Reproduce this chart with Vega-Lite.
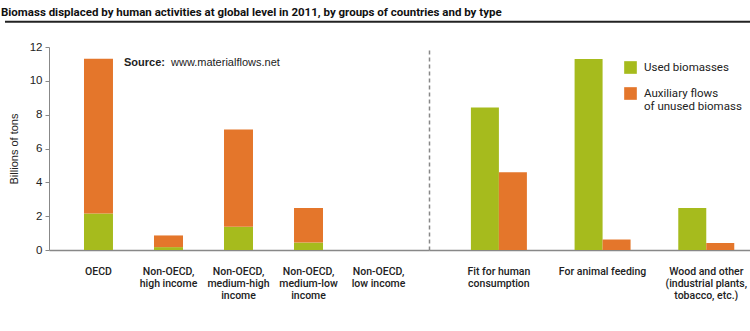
{
  "$schema": "https://vega.github.io/schema/vega-lite/v6.json",
  "padding": {"left": 0, "top": 6, "right": 0, "bottom": 0},
  "background": "white",
  "bounds": "flush",
  "config": {
    "view": {"stroke": null},
    "font": "Liberation Sans",
    "axis": {"labelColor": "#222", "titleColor": "#222"}
  },
  "title": {
    "text": "Biomass displaced by human activities at global level in 2011, by groups of countries and by type",
    "anchor": "start",
    "font": "Roboto",
    "fontSize": 11.5,
    "fontWeight": "bold",
    "color": "#111",
    "offset": -0.5
  },
  "spacing": 0,
  "resolve": {"scale": {"color": "shared", "x": "independent", "y": "independent"}},
  "hconcat": [
    {
      "width": 380,
      "height": 203,
      "resolve": {"scale": {"x": "independent"}},
      "layer": [
        {
          "layer": [
            {
              "data": {
                "values": [
                  {"group": "OECD", "type": "Used biomasses", "value": 2.16},
                  {"group": "OECD", "type": "Auxiliary flows of unused biomass", "value": 9.15},
                  {"group": "Non-OECD, high income", "type": "Used biomasses", "value": 0.17},
                  {"group": "Non-OECD, high income", "type": "Auxiliary flows of unused biomass", "value": 0.69},
                  {"group": "Non-OECD, medium-high income", "type": "Used biomasses", "value": 1.37},
                  {"group": "Non-OECD, medium-high income", "type": "Auxiliary flows of unused biomass", "value": 5.75},
                  {"group": "Non-OECD, medium-low income", "type": "Used biomasses", "value": 0.44},
                  {"group": "Non-OECD, medium-low income", "type": "Auxiliary flows of unused biomass", "value": 2.05},
                  {"group": "Non-OECD, low income", "type": "Used biomasses", "value": 0},
                  {"group": "Non-OECD, low income", "type": "Auxiliary flows of unused biomass", "value": 0}
                ]
              },
              "mark": {"type": "bar"},
              "encoding": {
                "x": {
                  "field": "group",
                  "type": "nominal",
                  "sort": null,
                  "scale": {
                    "domain": ["OECD", "Non-OECD, high income", "Non-OECD, medium-high income", "Non-OECD, medium-low income", "Non-OECD, low income"],
                    "paddingInner": 0.586,
                    "paddingOuter": 0.507,
                    "align": 0.493
                  },
                  "axis": {
                    "title": null,
                    "labelAngle": 0,
                    "ticks": false,
                    "domainColor": "#888",
                    "domainWidth": 1.5,
                    "labelPadding": 16,
                    "labelFont": "Roboto",
                    "labelFontWeight": 500,
                    "labelFontSize": 10.5,
                    "labelLineHeight": 12,
                    "labelLimit": 200,
                    "labelExpr": "datum.value == 'Non-OECD, high income' ? ['Non-OECD,', 'high income'] : datum.value == 'Non-OECD, medium-high income' ? ['Non-OECD,', 'medium-high', 'income'] : datum.value == 'Non-OECD, medium-low income' ? ['Non-OECD,', 'medium-low', 'income'] : datum.value == 'Non-OECD, low income' ? ['Non-OECD,', 'low income'] : datum.label"
                  }
                },
                "y": {
                  "field": "value",
                  "type": "quantitative",
                  "stack": "zero",
                  "scale": {"domain": [0, 12], "nice": false},
                  "axis": {
                    "title": "Billions of tons",
                    "titleFontWeight": "normal",
                    "titleFontSize": 11,
                    "titlePadding": 10,
                    "values": [0, 2, 4, 6, 8, 10, 12],
                    "tickCount": 7,
                    "labelOverlap": false,
                    "grid": false,
                    "domainColor": "#888",
                    "tickColor": "#888",
                    "tickSize": 4,
                    "labelFontSize": 11.5,
                    "labelPadding": 3
                  }
                },
                "color": {
                  "field": "type",
                  "type": "nominal",
                  "scale": {"domain": ["Used biomasses", "Auxiliary flows of unused biomass"], "range": ["#a6bb1d", "#e4762b"]},
                  "legend": {
                    "orient": "none",
                    "legendX": 575,
                    "legendY": 14,
                    "title": null,
                    "symbolType": "square",
                    "symbolSize": 160,
                    "symbolStrokeWidth": 0,
                    "labelFont": "Roboto",
                    "labelFontSize": 11.5,
                    "labelColor": "#222",
                    "rowPadding": 13,
                    "labelOffset": 7,
                    "labelLimit": 200,
                    "labelExpr": "datum.value == 'Auxiliary flows of unused biomass' ? ['Auxiliary flows', 'of unused biomass'] : datum.label"
                  }
                },
                "order": {"field": "type", "sort": "descending"}
              }
            },
            {
              "data": {"values": [{"t": "Source:"}]},
              "mark": {"type": "text", "align": "left", "baseline": "middle", "fontWeight": "bold", "fontSize": 11, "color": "#222", "dx": -44.5, "dy": -1},
              "encoding": {
                "x": {"datum": "Non-OECD, high income", "type": "nominal"},
                "y": {
                  "datum": 11,
                  "type": "quantitative",
                  "axis": {
                    "title": "Billions of tons",
                    "titleFontWeight": "normal",
                    "titleFontSize": 11,
                    "titlePadding": 10,
                    "values": [0, 2, 4, 6, 8, 10, 12],
                    "tickCount": 7,
                    "labelOverlap": false,
                    "grid": false,
                    "domainColor": "#888",
                    "tickColor": "#888",
                    "tickSize": 4,
                    "labelFontSize": 11.5,
                    "labelPadding": 3
                  }
                },
                "text": {"field": "t"}
              }
            },
            {
              "data": {"values": [{"t": "www.materialflows.net"}]},
              "mark": {"type": "text", "align": "left", "baseline": "middle", "fontSize": 11, "color": "#222", "dx": 2.5, "dy": -1},
              "encoding": {
                "x": {"datum": "Non-OECD, high income", "type": "nominal"},
                "y": {
                  "datum": 11,
                  "type": "quantitative",
                  "axis": {
                    "title": "Billions of tons",
                    "titleFontWeight": "normal",
                    "titleFontSize": 11,
                    "titlePadding": 10,
                    "values": [0, 2, 4, 6, 8, 10, 12],
                    "tickCount": 7,
                    "labelOverlap": false,
                    "grid": false,
                    "domainColor": "#888",
                    "tickColor": "#888",
                    "tickSize": 4,
                    "labelFontSize": 11.5,
                    "labelPadding": 3
                  }
                },
                "text": {"field": "t"}
              }
            }
          ]
        },
        {
          "data": {"values": [{"p": 0}, {"p": 1}]},
          "mark": {"type": "line", "color": "#222", "strokeWidth": 2},
          "encoding": {
            "x": {"field": "p", "type": "quantitative", "axis": null, "scale": {"domain": [0.1038, 1], "nice": false, "zero": false}},
            "y": {
              "datum": 13.5,
              "type": "quantitative",
              "axis": {
                "title": "Billions of tons",
                "titleFontWeight": "normal",
                "titleFontSize": 11,
                "titlePadding": 10,
                "values": [0, 2, 4, 6, 8, 10, 12],
                "tickCount": 7,
                "labelOverlap": false,
                "grid": false,
                "domainColor": "#888",
                "tickColor": "#888",
                "tickSize": 4,
                "labelFontSize": 11.5,
                "labelPadding": 3
              }
            }
          }
        }
      ]
    },
    {
      "width": 321,
      "height": 203,
      "layer": [
        {
          "data": {
            "values": [
              {"cat": "Fit for human consumption", "type": "Used biomasses", "value": 8.43},
              {"cat": "Fit for human consumption", "type": "Auxiliary flows of unused biomass", "value": 4.6},
              {"cat": "For animal feeding", "type": "Used biomasses", "value": 11.29},
              {"cat": "For animal feeding", "type": "Auxiliary flows of unused biomass", "value": 0.62},
              {"cat": "Wood and other (industrial plants, tobacco, etc.)", "type": "Used biomasses", "value": 2.49},
              {"cat": "Wood and other (industrial plants, tobacco, etc.)", "type": "Auxiliary flows of unused biomass", "value": 0.42}
            ]
          },
          "mark": {"type": "bar"},
          "encoding": {
            "x": {
              "field": "cat",
              "type": "nominal",
              "sort": null,
              "scale": {
                "domain": ["Fit for human consumption", "For animal feeding", "Wood and other (industrial plants, tobacco, etc.)"],
                "paddingInner": 0.46,
                "paddingOuter": 0.278,
                "align": 0.727
              },
              "axis": {
                "title": null,
                "labelAngle": 0,
                "ticks": false,
                "domainColor": "#888",
                "domainWidth": 1.5,
                "labelPadding": 16,
                "labelFont": "Roboto",
                "labelFontWeight": 500,
                "labelFontSize": 10.5,
                "labelLineHeight": 12,
                "labelLimit": 200,
                "labelExpr": "datum.value == 'Fit for human consumption' ? ['Fit for human', 'consumption'] : datum.value == 'Wood and other (industrial plants, tobacco, etc.)' ? ['Wood and other', '(industrial plants,', 'tobacco, etc.)'] : datum.label"
              }
            },
            "xOffset": {
              "field": "type",
              "type": "nominal",
              "scale": {"domain": ["Used biomasses", "Auxiliary flows of unused biomass"], "paddingInner": 0, "paddingOuter": 0}
            },
            "y": {
              "field": "value",
              "type": "quantitative",
              "scale": {"domain": [0, 12], "nice": false},
              "axis": {
                "title": null,
                "labels": false,
                "ticks": false,
                "tickSize": 0,
                "minExtent": 0,
                "maxExtent": 0,
                "grid": false,
                "domainColor": "#888",
                "domainWidth": 1.5,
                "domainDash": [4, 3]
              }
            },
            "color": {
              "field": "type",
              "type": "nominal",
              "scale": {"domain": ["Used biomasses", "Auxiliary flows of unused biomass"], "range": ["#a6bb1d", "#e4762b"]},
              "legend": {
                "orient": "none",
                "legendX": 575,
                "legendY": 14,
                "title": null,
                "symbolType": "square",
                "symbolSize": 160,
                "symbolStrokeWidth": 0,
                "labelFont": "Roboto",
                "labelFontSize": 11.5,
                "labelColor": "#222",
                "rowPadding": 13,
                "labelOffset": 7,
                "labelLimit": 200,
                "labelExpr": "datum.value == 'Auxiliary flows of unused biomass' ? ['Auxiliary flows', 'of unused biomass'] : datum.label"
              }
            }
          }
        },
        {
          "data": {"values": [{"p": 0}]},
          "mark": {"type": "rule", "color": "#222", "strokeWidth": 2},
          "encoding": {
            "y": {
              "datum": 13.5,
              "type": "quantitative",
              "axis": {
                "title": null,
                "labels": false,
                "ticks": false,
                "tickSize": 0,
                "minExtent": 0,
                "maxExtent": 0,
                "grid": false,
                "domainColor": "#888",
                "domainWidth": 1.5,
                "domainDash": [4, 3]
              }
            }
          }
        }
      ]
    }
  ]
}
